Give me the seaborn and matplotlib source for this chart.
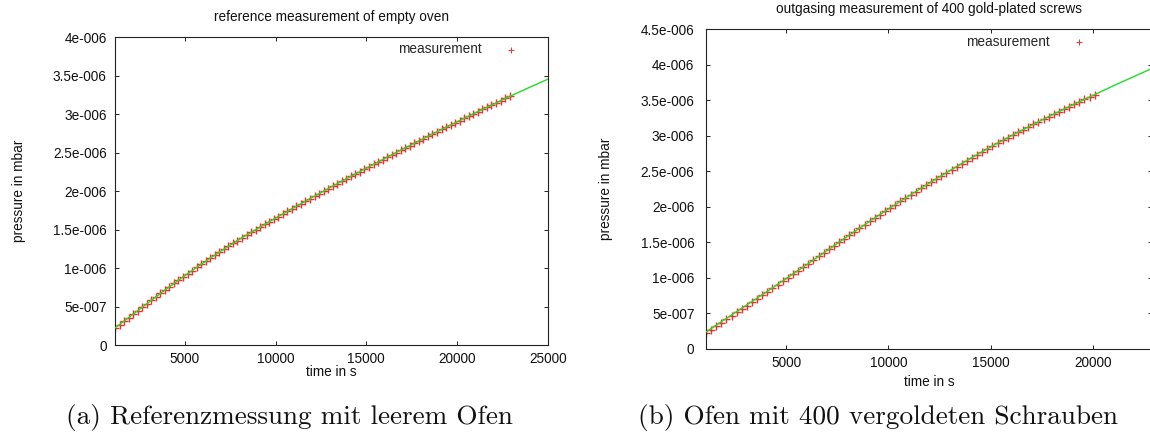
import matplotlib
matplotlib.use("Agg")
import matplotlib.pyplot as plt
import seaborn as sns

# ---------------- data (pressure in units of 1e-6 mbar) ----------------
ref_time = [1150, 1400, 1650, 1900, 2150, 2400, 2650, 2900, 3150, 3400, 3650, 3900,
            4150, 4400, 4650, 4900, 5150, 5400, 5650, 5900, 6150, 6400, 6650, 6900,
            7150, 7400, 7650, 7900, 8150, 8400, 8650, 8900, 9150, 9400, 9650, 9900,
            10150, 10400, 10650, 10900, 11150, 11400, 11650, 11900, 12150, 12400, 12650, 12900,
            13150, 13400, 13650, 13900, 14150, 14400, 14650, 14900, 15150, 15400, 15650, 15900,
            16150, 16400, 16650, 16900, 17150, 17400, 17650, 17900, 18150, 18400, 18650, 18900,
            19150, 19400, 19650, 19900, 20150, 20400, 20650, 20900, 21150, 21400, 21650, 21900,
            22150, 22400, 22650, 22900]
ref_pressure = [0.220, 0.266, 0.312, 0.358, 0.404, 0.449, 0.495, 0.540, 0.585, 0.629, 0.673, 0.717,
                0.761, 0.803, 0.846, 0.888, 0.929, 0.970, 1.011, 1.052, 1.092, 1.131, 1.170, 1.209,
                1.248, 1.285, 1.323, 1.360, 1.396, 1.431, 1.466, 1.501, 1.536, 1.570, 1.604, 1.638,
                1.672, 1.706, 1.739, 1.773, 1.806, 1.839, 1.872, 1.905, 1.938, 1.970, 2.003, 2.035,
                2.067, 2.099, 2.131, 2.162, 2.194, 2.225, 2.256, 2.288, 2.319, 2.350, 2.381, 2.412,
                2.442, 2.473, 2.503, 2.534, 2.564, 2.594, 2.624, 2.654, 2.684, 2.714, 2.744, 2.773,
                2.803, 2.832, 2.861, 2.890, 2.919, 2.948, 2.977, 3.006, 3.035, 3.063, 3.091, 3.119,
                3.148, 3.177, 3.206, 3.235]
ref_fit_time = [1150, 2000, 3000, 4000, 5000, 6000, 7000, 8000, 9000, 10000, 11000, 12000,
                13000, 14000, 15000, 16000, 17000, 18000, 19000, 20000, 21000, 22000, 23000,
                24000, 25000]
ref_fit_pressure = [0.225, 0.377, 0.558, 0.735, 0.905, 1.068, 1.225, 1.375, 1.515, 1.652, 1.786,
                    1.918, 2.048, 2.175, 2.300, 2.424, 2.546, 2.666, 2.785, 2.902, 3.018, 3.130,
                    3.243, 3.350, 3.455]

screw_time = [1090, 1340, 1590, 1840, 2090, 2340, 2590, 2840, 3090, 3340, 3590, 3840,
              4090, 4340, 4590, 4840, 5090, 5340, 5590, 5840, 6090, 6340, 6590, 6840,
              7090, 7340, 7590, 7840, 8090, 8340, 8590, 8840, 9090, 9340, 9590, 9840,
              10090, 10340, 10590, 10840, 11090, 11340, 11590, 11840, 12090, 12340, 12590, 12840,
              13090, 13340, 13590, 13840, 14090, 14340, 14590, 14840, 15090, 15340, 15590, 15840,
              16090, 16340, 16590, 16840, 17090, 17340, 17590, 17840, 18090, 18340, 18590, 18840,
              19090, 19340, 19590, 19840, 20090]
screw_pressure = [0.220, 0.268, 0.316, 0.364, 0.413, 0.461, 0.510, 0.559, 0.608, 0.656, 0.705, 0.754,
                  0.803, 0.851, 0.900, 0.949, 0.998, 1.048, 1.098, 1.148, 1.198, 1.248, 1.298, 1.348,
                  1.398, 1.448, 1.498, 1.548, 1.598, 1.646, 1.695, 1.744, 1.792, 1.840, 1.887, 1.935,
                  1.982, 2.028, 2.074, 2.120, 2.166, 2.211, 2.256, 2.301, 2.346, 2.389, 2.433, 2.477,
                  2.520, 2.563, 2.605, 2.648, 2.690, 2.731, 2.772, 2.814, 2.854, 2.893, 2.931, 2.970,
                  3.009, 3.046, 3.084, 3.121, 3.158, 3.194, 3.231, 3.267, 3.303, 3.338, 3.373, 3.408,
                  3.442, 3.476, 3.509, 3.543, 3.577]
screw_fit_time = [1090, 2000, 3000, 4000, 5000, 6000, 7000, 8000, 9000, 10000, 11000, 12000,
                  13000, 14000, 15000, 16000, 17000, 18000, 19000, 20000, 21000, 22000, 22890]
screw_fit_pressure = [0.235, 0.410, 0.600, 0.790, 0.985, 1.180, 1.380, 1.580, 1.775, 1.965, 2.150,
                      2.330, 2.505, 2.675, 2.840, 2.995, 3.145, 3.290, 3.430, 3.565, 3.700, 3.830,
                      3.945]

x_ticks = [5000, 10000, 15000, 20000, 25000]
x_tick_labels = ["5000", "10000", "15000", "20000", "25000"]
ref_y_ticks = [0, 0.5, 1.0, 1.5, 2.0, 2.5, 3.0, 3.5, 4.0]
ref_y_tick_labels = ["0", "5e-007", "1e-006", "1.5e-006", "2e-006", "2.5e-006",
                     "3e-006", "3.5e-006", "4e-006"]
screw_y_ticks = [0, 0.5, 1.0, 1.5, 2.0, 2.5, 3.0, 3.5, 4.0, 4.5]
screw_y_tick_labels = ["0", "5e-007", "1e-006", "1.5e-006", "2e-006", "2.5e-006",
                       "3e-006", "3.5e-006", "4e-006", "4.5e-006"]

titles = ["reference measurement of empty oven", "outgasing measurement of 400 gold-plated screws"]
captions = ["(a) Referenzmessung mit leerem Ofen", "(b) Ofen mit 400 vergoldeten Schrauben"]

# ---------------- style ----------------
sns.set_theme(style="white")
plt.rcParams["font.family"] = ["Liberation Sans", "DejaVu Sans"]

W, H = 1150, 438
fig = plt.figure(figsize=(W / 100, H / 100), dpi=100)
fig.patch.set_facecolor("white")

ax1 = fig.add_axes([115 / W, (H - 345.3) / H, 432.7 / W, 308 / H])
ax2 = fig.add_axes([706 / W, (H - 348.7) / H, 446 / W, 319.7 / H])

RED = "#f03030"
GREEN = "#22dd22"
FS = 9.8

panels = [
    (ax1, ref_time, ref_pressure, ref_fit_time, ref_fit_pressure, (1150, 25000), (0, 4.0),
     ref_y_ticks, ref_y_tick_labels, 6.0, 11.8, -0.2219, -0.0867, (0.9469, 0.961)),
    (ax2, screw_time, screw_pressure, screw_fit_time, screw_fit_pressure, (1090, 22890), (0, 4.5),
     screw_y_ticks, screw_y_tick_labels, 8.3, 11.3, -0.2242, -0.1032, (0.8667, 0.960)),
]

for i, (ax, t, p, ft, fp, xl, yl, yt, ytl, ypad, tpad, ylx, xly, leg) in enumerate(panels):
    ax.set_facecolor("white")
    sns.scatterplot(x=t, y=p, marker="+", color=RED, s=38, linewidth=1.0,
                    ax=ax, label="measurement", zorder=2)
    sns.lineplot(x=ft, y=fp, color=GREEN, linewidth=1.0, ax=ax, legend=False,
                 errorbar=None, zorder=3)
    ax.set_xlim(*xl)
    ax.set_ylim(*yl)
    ax.set_xticks(x_ticks)
    ax.set_xticklabels(x_tick_labels)
    ax.set_yticks(yt)
    ax.set_yticklabels(ytl)
    ax.set_xlim(*xl)
    ax.tick_params(axis="both", which="major", direction="in", length=3.2, width=0.7,
                   color="#222222", labelsize=FS, labelcolor="#111111",
                   top=True, right=True, bottom=True, left=True)
    ax.tick_params(axis="x", pad=5.0)
    ax.tick_params(axis="y", pad=ypad)
    for sp in ax.spines.values():
        sp.set_visible(True)
        sp.set_color("#222222")
        sp.set_linewidth(0.8)
    ax.grid(False)
    ax.set_title(titles[i], fontsize=FS, color="#111111", pad=tpad)
    ax.set_xlabel("time in s", fontsize=FS, color="#111111")
    ax.set_ylabel("pressure in mbar", fontsize=FS, color="#111111")
    ax.xaxis.set_label_coords(0.5, xly)
    ax.xaxis.label.set_va("center")
    ax.yaxis.set_label_coords(ylx, 0.5)
    ax.yaxis.label.set_va("center")
    lg = ax.legend(loc="center right", bbox_to_anchor=leg, frameon=False, markerfirst=False,
                   handlelength=2.0, handletextpad=1.15, borderpad=0, borderaxespad=0,
                   fontsize=FS, scatterpoints=1)
    for h in lg.legend_handles:
        h.set_sizes([22])
        h.set_linewidth(0.7)

fig.text(289 / W, (H - 424) / H, captions[0], fontfamily="cmr10", fontsize=19.6,
         ha="center", va="baseline", color="#111111")
fig.text(878 / W, (H - 424) / H, captions[1], fontfamily="cmr10", fontsize=19.6,
         ha="center", va="baseline", color="#111111")

fig.savefig("out.png", dpi=100, facecolor="white")
